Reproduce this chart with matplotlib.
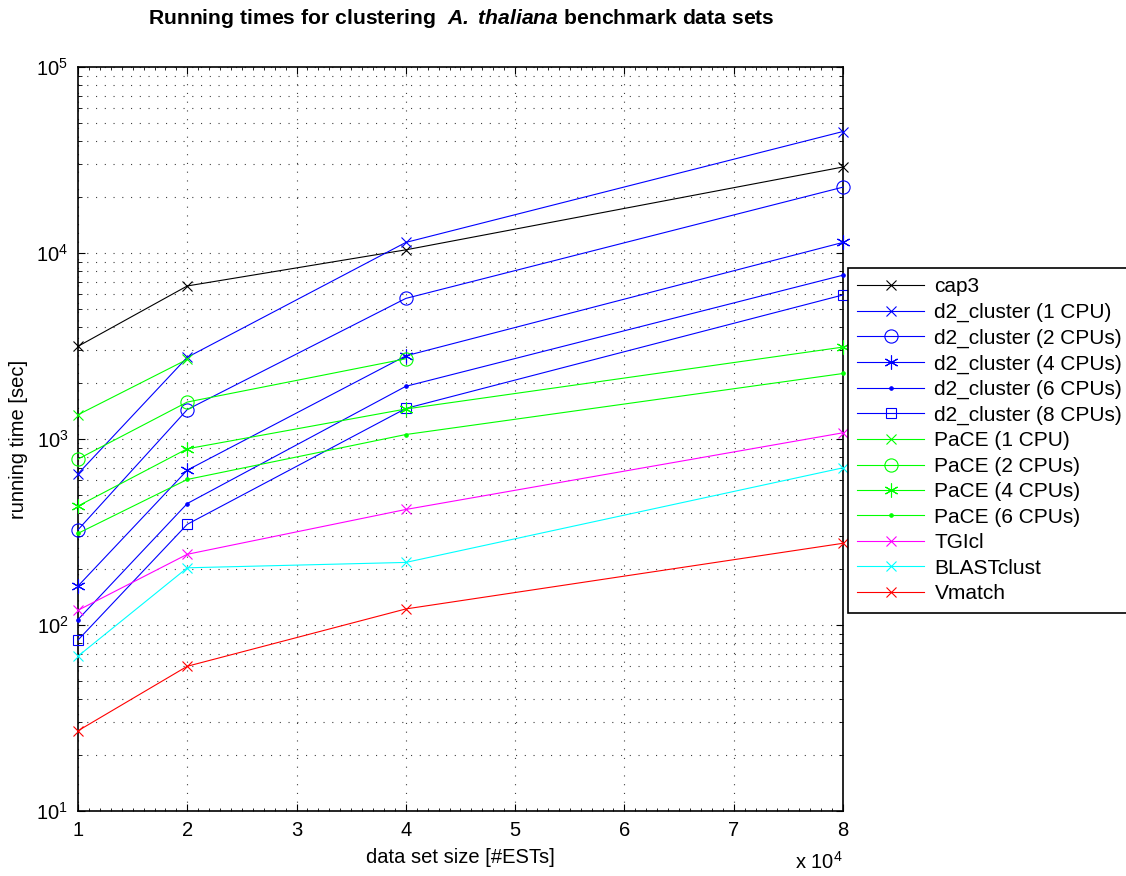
import matplotlib
matplotlib.use("Agg")
import matplotlib.pyplot as plt
from matplotlib.ticker import FixedLocator, LogLocator, NullFormatter

plt.rcParams['font.family'] = ['Liberation Sans', 'DejaVu Sans']
plt.rcParams['mathtext.fontset'] = 'custom'
plt.rcParams['mathtext.rm'] = 'Liberation Sans'
plt.rcParams['mathtext.it'] = 'Liberation Sans:italic'
plt.rcParams['mathtext.bf'] = 'Liberation Sans:bold'
plt.rcParams['mathtext.bfit'] = 'Liberation Sans:italic:bold'
plt.rcParams['lines.scale_dashes'] = False

# data set sizes (#ESTs)
sizes = [10000, 20000, 40000, 80000]

cap3 = [3150, 6650, 10400, 29000]
d2_1 = [650, 2750, 11400, 45000]
d2_2 = [325, 1440, 5700, 22600]
d2_4 = [162, 680, 2800, 11400]
d2_6 = [107, 450, 1920, 7600]
d2_8 = [83, 348, 1460, 5950]
pace_1 = [1350, 2680]
pace_2 = [780, 1580, 2700]
pace_4 = [436, 886, 1450, 3120]
pace_6 = [311, 606, 1057, 2250]
tgicl = [120, 240, 418, 1080]
blastclust = [68, 203, 217, 700]
vmatch = [27, 60, 122, 275]

xticks = [10000, 20000, 30000, 40000, 50000, 60000, 70000, 80000]
xticklabels = ['1', '2', '3', '4', '5', '6', '7', '8']

asterisk = (6, 2, 0)

fig = plt.figure(figsize=(11.26, 8.76), dpi=100)
ax = fig.add_axes([78 / 1126, 1 - 811 / 876, (843 - 78) / 1126, (811 - 67) / 876])

series = [
    (cap3, 'k', 'x', 7.5, 'cap3'),
    (d2_1, 'b', 'x', 7.5, 'd2_cluster (1 CPU)'),
    (d2_2, 'b', 'o', 9.5, 'd2_cluster (2 CPUs)'),
    (d2_4, 'b', asterisk, 10, 'd2_cluster (4 CPUs)'),
    (d2_6, 'b', '.', 5, 'd2_cluster (6 CPUs)'),
    (d2_8, 'b', 's', 7.5, 'd2_cluster (8 CPUs)'),
    (pace_1, 'lime', 'x', 7.5, 'PaCE (1 CPU)'),
    (pace_2, 'lime', 'o', 9.5, 'PaCE (2 CPUs)'),
    (pace_4, 'lime', asterisk, 10, 'PaCE (4 CPUs)'),
    (pace_6, 'lime', '.', 5, 'PaCE (6 CPUs)'),
    (tgicl, 'magenta', 'x', 7.5, 'TGIcl'),
    (blastclust, 'cyan', 'x', 7.5, 'BLASTclust'),
    (vmatch, 'red', 'x', 7.5, 'Vmatch'),
]

for vals, col, mk, ms, lab in series:
    ax.plot(sizes[:len(vals)], vals, color=col, marker=mk, markersize=ms,
            markerfacecolor='none' if mk in ('o', 's') else col,
            markeredgewidth=0.8, linewidth=0.8, label=lab, clip_on=False, zorder=3)

ax.set_yscale('log')
ax.set_xlim(10000, 80000)
ax.set_ylim(10, 100000)

ax.xaxis.set_major_locator(FixedLocator(xticks))
ax.set_xticklabels(xticklabels)
ax.xaxis.set_minor_locator(FixedLocator(list(range(10000, 80001, 1000))))
ax.yaxis.set_major_locator(LogLocator(base=10, numticks=10))
ax.yaxis.set_minor_locator(LogLocator(base=10, subs=range(2, 10), numticks=10))
ax.yaxis.set_minor_formatter(NullFormatter())

ax.tick_params(which='both', direction='in', top=True, right=True, labelsize=14.5)
ax.tick_params(which='major', length=5, width=0.8, pad=7)
ax.tick_params(which='minor', length=3, width=0.6)
ax.tick_params(axis='x', which='minor', length=2)

for s in ax.spines.values():
    s.set_linewidth(1.2)

ax.grid(True, which='major', color='0.25', linestyle=(0, (0.8, 5.5)), linewidth=0.8)
ax.grid(True, which='minor', axis='y', color='0.25', linestyle=(0, (0.8, 5.5)), linewidth=0.8)

ax.set_xlabel('data set size [#ESTs]', fontsize=14.5, labelpad=6)
ax.set_ylabel('running time [sec]', fontsize=14.5, labelpad=6)
fig.text(843 / 1126, 1 - 862 / 876, r'x 10$^4$', fontsize=14.5, ha='right', va='center')

fig.text(461 / 1126, 1 - 19 / 876,
         r'Running times for clustering  $\mathbfit{A.\ thaliana}$ benchmark data sets',
         fontsize=15.2, fontweight='bold', ha='center', va='center')

fig.legend(loc='upper left', bbox_to_anchor=(848 / 1126, 1 - 268 / 876),
           borderaxespad=0, fontsize=15, frameon=True, fancybox=False,
           edgecolor='k', framealpha=1, handlelength=3.2, handletextpad=0.5,
           labelspacing=0.31, borderpad=0.45)
fig.legends[0].get_frame().set_linewidth(1.2)

fig.savefig('out.png', dpi=100)
